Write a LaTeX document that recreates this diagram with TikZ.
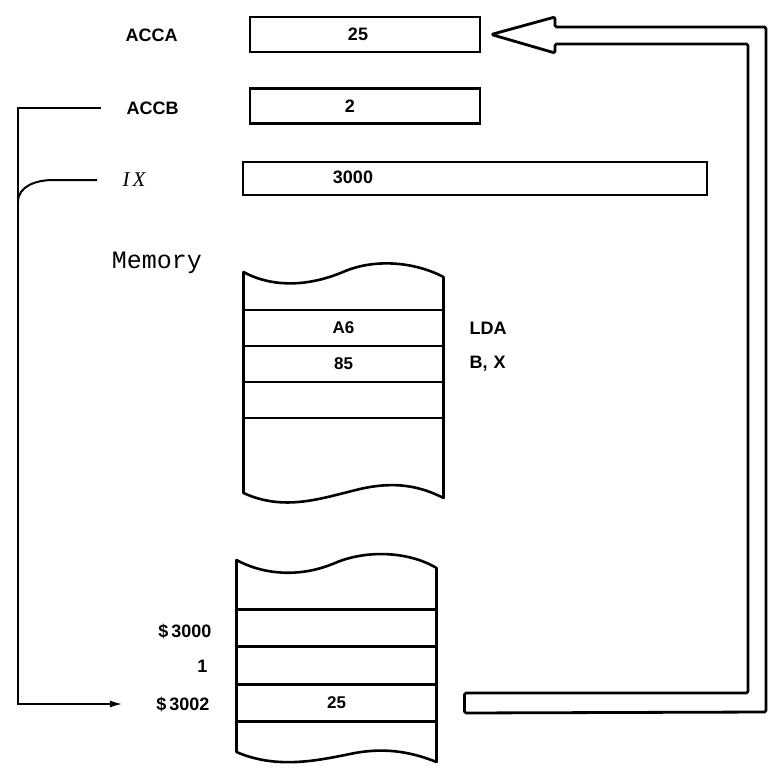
\documentclass[tikz,border=0pt]{standalone}
\usepackage{fontspec}
\setmainfont{Liberation Sans}
\newfontfamily\memfont{Liberation Mono}
\newfontfamily\ixfont{Liberation Serif}
\usetikzlibrary{arrows.meta,positioning}
\tikzset{
  reg/.style={draw,line width=2.6pt,minimum height=35pt,inner sep=0pt},
  cell/.style={draw,line width=2.6pt,minimum width=200pt,inner sep=0pt,outer sep=0pt,
               font=\bfseries\fontsize{17}{17}\selectfont},
  regname/.style={anchor=west,font=\bfseries\fontsize{18}{18}\selectfont},
  val/.style={font=\bfseries\fontsize{18}{18}\selectfont},
  addr/.style={anchor=east,font=\bfseries\fontsize{18}{18}\selectfont},
  op/.style={anchor=west,font=\bfseries\fontsize{18}{18}\selectfont},
  wire/.style={line width=2pt},
  arr/.style={wire,-{Latex[length=13pt,width=7pt]}},
  hollow/.style={line width=2.8pt,line join=round,rounded corners=1.5pt},
  blk/.style={line width=2.6pt,line join=round}
}

\begin{document}
\begin{tikzpicture}[x=1pt,y=-1pt]
  \useasboundingbox (0,0) rectangle (771,768);
  % registers
  \node[regname] (lacca) at (122,35) {ACCA};
  \node[regname] (laccb) at (123,108) {ACCB};
  \node[regname,font=\ixfont\itshape\fontsize{21}{21}\selectfont] (lix) at (119,180) {I\kern3pt X};
  \node[reg,minimum width=230pt] (acca) at (365,34.5) {};
  \node[reg,minimum width=230pt] (accb) at (365,106) {};
  \node[reg,minimum width=464pt,minimum height=33pt] (ix) at (475,178.5) {};
  \node[val] (vacca) at (358,34) {25};
  \node[val] (vaccb) at (350,106) {2};
  \node[val] (vix) at (353,177) {3000};
  % program memory
  \node[font=\memfont\fontsize{25}{25}\selectfont] (mem) at (157,263) {Memory};
  \node[cell,minimum height=36pt] (m1) at (343.5,328) {A6};
  \node[cell,minimum height=36pt,below=0pt of m1] (m2) {85};
  \node[cell,minimum height=36pt,below=0pt of m2] (m3) {};
  \draw[blk] (243.5,310) -- (243.5,272)
    .. controls (265,284) and (300,290) .. (343,272)
    .. controls (375,258) and (415,262) .. (443.5,277) -- (443.5,310);
  \draw[blk] (243.5,418) -- (243.5,493)
    .. controls (285,512) and (322,498) .. (360,489)
    .. controls (395,481) and (420,486) .. (443.5,498) -- (443.5,418);
  \node[op] (lda) at (466,328) {LDA};
  \node[op] (bx) at (466,364) {B,\kern6pt X};
  % data memory
  \node[cell,minimum height=37.5pt] (n1) at (336.5,628) {};
  \node[cell,minimum height=37.5pt,below=0pt of n1] (n2) {};
  \node[cell,minimum height=37.5pt,below=0pt of n2] (n3) {25};
  \draw[blk] (236.5,609.25) -- (236.5,560)
    .. controls (258,572) and (295,580) .. (335,563)
    .. controls (368,549) and (410,552) .. (436.5,568) -- (436.5,609.25);
  \draw[blk] (236.5,721.75) -- (236.5,752)
    .. controls (278,770) and (320,760) .. (355,753)
    .. controls (388,747) and (414,753) .. (436.5,762) -- (436.5,721.75);
  \node[addr] (a3000) at (215,631) {\$\kern3pt3000};
  \node[addr] (a3001) at (211,666) {1};
  \node[addr] (a3002) at (213,704) {\$\kern3pt3002};
  % index path
  \coordinate (lft) at (18,400);
  \coordinate (ixj) at (18,202);
  \draw[arr,shorten <=22pt,shorten >=30pt] (laccb.west) -| (lft) |- (a3002.west);
  \draw[wire,shorten <=22pt] (lix.west) -- ++(-66,0) to[out=180,in=90] (ixj);
  % result back to ACCA
  \coordinate (tip) at ([xshift=10pt]acca.east);
  \coordinate (barl) at ([xshift=28pt]n3.east);
  \draw[hollow] ([yshift=10pt]barl) -- (748,693) -- (748,44) -- (555,44)
    -- (555,53) -- (tip) -- (555,17) -- (555,27) -- (766,27) -- (766,712)
    -- ([yshift=-10pt]barl) -- cycle;
\end{tikzpicture}
\end{document}
